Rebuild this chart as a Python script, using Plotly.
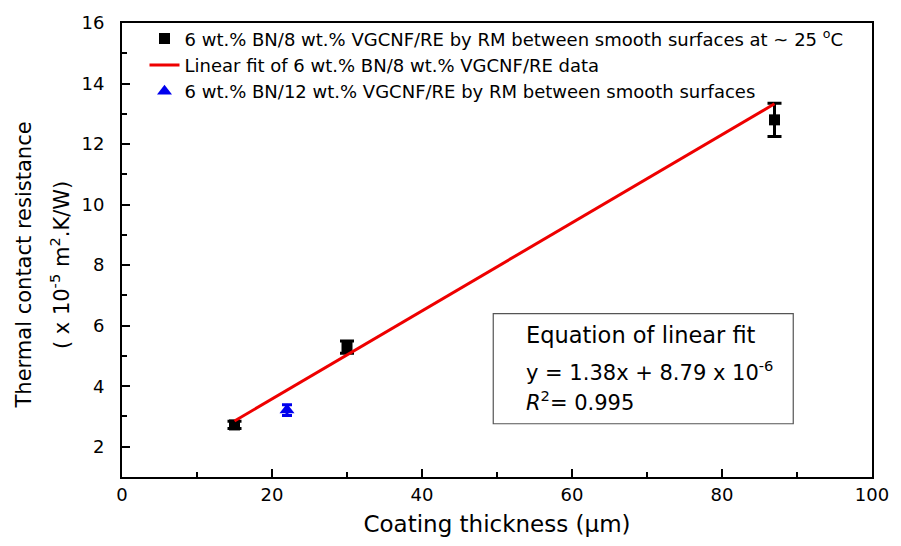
import plotly.graph_objects as go

# Data
x_bn8 = [15, 30, 87]
y_bn8 = [2.72, 5.29, 12.8]
err_bn8 = [0.12, 0.2, 0.55]

x_fit = [15, 87]
y_fit = [2.85, 13.33]

x_bn12 = [22]
y_bn12 = [3.21]
err_bn12 = [0.18]

x_ticks = [0, 20, 40, 60, 80, 100]
y_ticks = [2, 4, 6, 8, 10, 12, 14, 16]

FONT = "DejaVu Sans, Liberation Sans, Arial, sans-serif"

fig = go.Figure()
fig.add_trace(go.Scatter(
    x=x_bn8, y=y_bn8, mode="markers",
    name="6 wt.% BN/8 wt.% VGCNF/RE by RM between smooth surfaces at ~ 25 <sup>o</sup>C",
    marker=dict(symbol="square", size=11, color="black"),
    error_y=dict(type="data", array=err_bn8, color="black", thickness=3, width=7),
))
fig.add_trace(go.Scatter(
    x=x_fit, y=y_fit, mode="lines",
    name="Linear fit of 6 wt.% BN/8 wt.% VGCNF/RE data",
    line=dict(color="#ee0000", width=3),
))
fig.add_trace(go.Scatter(
    x=x_bn12, y=y_bn12, mode="markers",
    name="6 wt.% BN/12 wt.% VGCNF/RE by RM between smooth surfaces",
    marker=dict(symbol="triangle-up", size=13, color="#0000ee"),
    error_y=dict(type="data", array=err_bn12, color="#0000ee", thickness=3, width=5),
))

# Equation box
fig.add_shape(type="rect", xref="x", yref="y", x0=49.5, x1=89.5, y0=2.76, y1=6.4,
              line=dict(color="#555555", width=1.2), fillcolor="rgba(0,0,0,0)")
box_x = 0.536
fig.add_annotation(x=box_x, y=5.68, xref="paper", yref="y", xanchor="left", yanchor="middle",
                   text="Equation of linear fit", showarrow=False,
                   font=dict(family=FONT, size=22.5, color="black"))
fig.add_annotation(x=box_x, y=4.5, xref="paper", yref="y", xanchor="left", yanchor="middle",
                   text="y = 1.38x + 8.79 x 10<sup>-6</sup>", showarrow=False,
                   font=dict(family=FONT, size=21, color="black"))
fig.add_annotation(x=box_x, y=3.52, xref="paper", yref="y", xanchor="left", yanchor="middle",
                   text="<i>R</i><sup>2</sup>= 0.995", showarrow=False,
                   font=dict(family=FONT, size=21, color="black"))

# Y axis title (two lines)
fig.add_annotation(x=(23 - 122) / 758, y=0.466, xref="paper", yref="paper",
                   xanchor="center", yanchor="middle",
                   text="Thermal contact resistance", textangle=-90, showarrow=False,
                   font=dict(family=FONT, size=21, color="black"))
fig.add_annotation(x=(60 - 122) / 758, y=0.466, xref="paper", yref="paper",
                   xanchor="center", yanchor="middle",
                   text="( x 10<sup>-5</sup> m<sup>2</sup>.K/W)", textangle=-90, showarrow=False,
                   font=dict(family=FONT, size=21, color="black"))

fig.update_layout(
    width=901, height=546,
    margin=dict(l=122, r=21, t=16, b=69),
    plot_bgcolor="white", paper_bgcolor="white",
    font=dict(family=FONT, size=18, color="black"),
    showlegend=True,
    legend=dict(x=0.03, y=1.006, xanchor="left", yanchor="top",
                bgcolor="rgba(0,0,0,0)", font=dict(family=FONT, size=18),
                tracegroupgap=0, itemwidth=30),
    xaxis=dict(
        range=[0, 100], tickvals=x_ticks,
        ticks="inside", ticklen=8, tickwidth=2, tickcolor="black",
        minor=dict(dtick=10, ticks="inside", ticklen=5, tickwidth=2, tickcolor="black"),
        showline=True, linecolor="black", linewidth=2, mirror=True,
        showgrid=False, zeroline=False,
        title=dict(text="Coating thickness (μm)", font=dict(family=FONT, size=23), standoff=12),
        tickfont=dict(family=FONT, size=18),
    ),
    yaxis=dict(
        range=[1, 16], tickvals=y_ticks,
        ticks="inside", ticklen=8, tickwidth=2, tickcolor="black",
        minor=dict(dtick=1, ticks="inside", ticklen=5, tickwidth=2, tickcolor="black"),
        showline=True, linecolor="black", linewidth=2, mirror=True,
        showgrid=False, zeroline=False,
        ticklabelstandoff=12,
        tickfont=dict(family=FONT, size=18),
    ),
)

fig.write_html("out.html")
